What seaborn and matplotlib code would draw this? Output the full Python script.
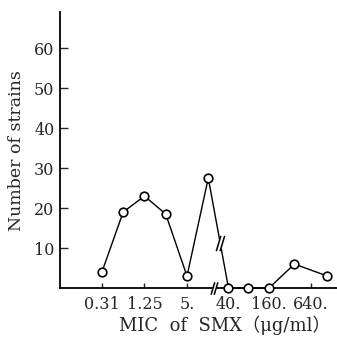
import numpy as np
import pandas as pd
import matplotlib.pyplot as plt
from matplotlib.path import Path
import seaborn as sns

custom_params = {"axes.spines.right": False, "axes.spines.top": False}
sns.set_theme(style="ticks", rc=custom_params)
plt.rcParams["font.family"] = ["DejaVu Serif", "Noto Sans CJK JP"]

# MIC classes (ug/ml) and the number of strains in each class
mic = ["0.31", "0.625", "1.25", "2.5", "5", "10", "40", "80", "160", "320", "1280"]
# position on the drawn axis (one step per doubling, axis broken between 10 and 40)
pos = [0, 1, 2, 3, 4, 5, 5.95, 6.85, 7.85, 9.05, 10.6]
strains = [4, 19, 23, 18.5, 3, 27.5, 0, 0, 0, 6, 3]

tick_pos = [0, 2, 4, 5.95, 7.85, 9.83]
tick_labels = ["0.31", "1.25", "5.", "40.", "160.", "640."]
ytick_vals = [10, 20, 30, 40, 50, 60]

df = pd.DataFrame({"MIC": mic, "pos": pos, "strains": strains})

fig = plt.figure(figsize=(3.37, 3.45), dpi=100)
ax = fig.add_axes([0.178, 0.165, 0.822, 0.800])

sns.lineplot(
    data=df, x="pos", y="strains", ax=ax,
    color="black", linewidth=1.0, marker="o", markersize=6.2,
    markerfacecolor="white", markeredgecolor="black", markeredgewidth=1.2,
    clip_on=False, zorder=3,
)

ax.set_xlim(-1.97, 11.05)
ax.set_ylim(0, 69)
ax.set_xticks(tick_pos)
ax.set_xticklabels(tick_labels)
ax.set_yticks(ytick_vals)
ax.tick_params(axis="y", direction="in", length=6, width=1.0, labelsize=11.5, pad=4)
ax.tick_params(axis="x", direction="in", length=3.5, width=1.0, labelsize=11.5, pad=6)
for side in ["left", "bottom"]:
    ax.spines[side].set_linewidth(1.3)
    ax.spines[side].set_color("black")

ax.set_ylabel("Number of strains", fontsize=12.5)
ax.yaxis.set_label_coords(-0.125, 0.5)
ax.set_xlabel("MIC  of  SMX\uff08\u03bcg/ml\uff09", fontsize=13)
ax.xaxis.set_label_coords(0.595, -0.10)

# break marks "//"
gap = Path([(-0.5, -1), (0.1, 1), (0.5, 1), (-0.1, -1), (-0.5, -1)],
           [Path.MOVETO, Path.LINETO, Path.LINETO, Path.LINETO, Path.CLOSEPOLY])
slash = Path([(-0.55, -1), (0.05, 1), (-0.05, -1), (0.55, 1)],
             [Path.MOVETO, Path.LINETO, Path.MOVETO, Path.LINETO])

# on the x axis
bx = 5.27
ax.plot([bx], [0], marker=gap, markersize=9, color="white", mec="white",
        clip_on=False, zorder=4)
ax.plot([bx], [0], marker=slash, markersize=9, color="black", mfc="none",
        mec="black", mew=1.1, clip_on=False, zorder=5)

# on the line between 10 and 40
t = 0.59
lx = pos[5] + t * (pos[6] - pos[5])
ly = strains[5] + t * (strains[6] - strains[5])
ax.plot([lx], [ly], marker=gap, markersize=11, color="white", mec="white", zorder=4)
ax.plot([lx], [ly], marker=slash, markersize=11, color="black", mfc="none",
        mec="black", mew=1.1, zorder=5)

fig.savefig("out.png", dpi=100)
